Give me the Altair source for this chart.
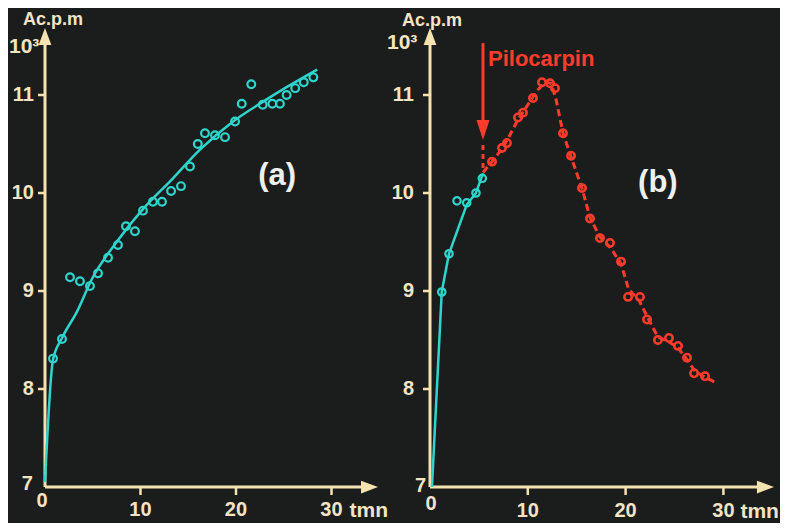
import altair as alt
import pandas as pd

# ---------------- data ----------------
# Panel (a): counts (x10^3 c.p.m) vs time (min)
a_pts_x = [0.84, 1.78, 2.62, 3.66, 4.71, 5.55, 6.6, 7.64, 8.48, 9.42, 10.26, 11.3, 12.25, 13.2,
           14.24, 15.18, 16.0, 16.75, 17.8, 18.85, 19.9, 20.6, 21.6, 22.8, 23.8, 24.6, 25.3,
           26.2, 27.1, 28.1]
a_pts_y = [8.31, 8.51, 9.14, 9.10, 9.05, 9.18, 9.34, 9.47, 9.66, 9.61, 9.82, 9.91, 9.91, 10.02,
           10.07, 10.27, 10.50, 10.61, 10.59, 10.57, 10.73, 10.91, 11.11, 10.90, 10.91, 10.91,
           11.00, 11.07, 11.13, 11.18]
a_fit_x = [0.0, 0.84, 1.78, 3.35, 4.9, 7.5, 10.3, 13.4, 16.2, 19.7, 22.8, 25.3, 28.5]
a_fit_y = [7.05, 8.30, 8.52, 8.79, 9.12, 9.50, 9.84, 10.15, 10.44, 10.73, 10.93, 11.08, 11.26]

# Panel (b): before pilocarpin (cyan) and after (red)
b_pre_x = [1.2, 1.94, 2.76, 3.75, 4.7, 5.35]
b_pre_y = [8.99, 9.38, 9.92, 9.90, 10.0, 10.15]
b_pre_line_x = [0.2, 1.2, 1.94, 3.75, 4.7, 5.42]
b_pre_line_y = [7.0, 8.99, 9.38, 9.88, 10.0, 10.2]

b_post_x = [6.34, 7.36, 7.87, 9.0, 9.51, 10.53, 11.45, 12.27, 12.78, 13.6, 14.42, 15.54, 16.36,
            17.38, 18.4, 19.53, 20.25, 21.47, 22.19, 23.31, 24.44, 25.36, 26.28, 27.0, 28.12]
b_post_y = [10.32, 10.46, 10.51, 10.77, 10.82, 10.97, 11.13, 11.12, 11.07, 10.61, 10.38, 10.05,
            9.74, 9.54, 9.49, 9.30, 8.94, 8.94, 8.71, 8.50, 8.52, 8.44, 8.32, 8.16, 8.13]
b_post_line_x = [5.42, 6.34, 7.36, 8.0, 9.0, 10.0, 11.0, 11.8, 12.4, 12.9, 13.6, 14.42, 15.54,
                 16.36, 17.38, 18.4, 19.53, 20.3, 21.4, 22.3, 23.31, 24.44, 25.36, 26.28, 27.1,
                 28.12, 29.14]
b_post_line_y = [10.21, 10.32, 10.45, 10.56, 10.75, 10.90, 11.05, 11.13, 11.12, 10.95, 10.61,
                 10.37, 10.05, 9.75, 9.55, 9.45, 9.28, 9.02, 8.90, 8.72, 8.53, 8.48, 8.42, 8.30,
                 8.18, 8.12, 8.07]

pilo_x = 5.42
pilo_label = "Pilocarpin"

y_ticks = [8, 9, 10, 11]
x_ticks = [10, 20, 30]
y_origin = 7
x_origin = 0
y_unit = "Ac.p.m"
y_mult = "10³"
x_unit = "tmn"
panel_names = ["(a)", "(b)"]

# ---------------- style ----------------
BG = "#1a1d1c"
AXIS = "#f6e2b0"
LABEL = "#f4e4c4"
CYAN = "#2fd5cd"
RED = "#ff3b2b"
WHITE = "#eef0ee"
FONT = "Liberation Sans"

W, H = 772, 515
ys = alt.Scale(domain=[6.6327, 11.8878], nice=False, zero=False)
xs_a = alt.Scale(domain=[-3.874, 76.963], nice=False, zero=False)
xs_b = alt.Scale(domain=[-43.149, 35.787], nice=False, zero=False)

ARROW_UP = "M0,-1L0.75,1L-0.75,1Z"
ARROW_RIGHT = "M1,0L-1,-0.75L-1,0.75Z"
ARROW_DOWN = "M0,1L-0.65,-1L0.65,-1Z"


def enc(xs, **extra):
    d = dict(x=alt.X("x:Q", scale=xs, axis=None), y=alt.Y("y:Q", scale=ys, axis=None))
    d.update(extra)
    return d


def frame(xs, y_top, x_end, lab):
    """axes with arrows, ticks and labels for one panel; lab holds pixel offsets."""
    L = []
    L.append(alt.Chart(pd.DataFrame({"x": [x_origin], "y": [y_origin], "y2": [y_top]}))
             .mark_rule(color=AXIS, strokeWidth=3)
             .encode(**enc(xs, y2=alt.Y2("y2:Q"))))
    L.append(alt.Chart(pd.DataFrame({"x": [x_origin], "x2": [x_end], "y": [y_origin]}))
             .mark_rule(color=AXIS, strokeWidth=3)
             .encode(**enc(xs, x2=alt.X2("x2:Q"))))
    L.append(alt.Chart(pd.DataFrame({"x": [x_origin], "y": [y_top]}))
             .mark_point(shape=ARROW_UP, size=289, filled=True, color=AXIS, opacity=1)
             .encode(**enc(xs)))
    L.append(alt.Chart(pd.DataFrame({"x": [x_end], "y": [y_origin]}))
             .mark_point(shape=ARROW_RIGHT, size=289, filled=True, color=AXIS, opacity=1)
             .encode(**enc(xs)))
    L.append(alt.Chart(pd.DataFrame({"x": [x_origin] * len(y_ticks), "y": y_ticks}))
             .mark_tick(orient="horizontal", size=7, thickness=2.5, xOffset=-3.5, color=AXIS, opacity=1)
             .encode(**enc(xs)))
    L.append(alt.Chart(pd.DataFrame({"x": x_ticks, "y": [y_origin] * len(x_ticks)}))
             .mark_tick(orient="vertical", size=8, thickness=2.5, yOffset=4, color=AXIS, opacity=1)
             .encode(**enc(xs)))
    tl = dict(color=LABEL, font=FONT, fontSize=20, fontWeight="bold")
    L.append(alt.Chart(pd.DataFrame({"x": [x_origin] * len(y_ticks), "y": y_ticks,
                                     "t": [str(v) for v in y_ticks]}))
             .mark_text(align="right", baseline="middle", dx=lab["ydx"], **tl)
             .encode(**enc(xs, text="t:N")))
    L.append(alt.Chart(pd.DataFrame({"x": x_ticks, "y": [y_origin] * len(x_ticks),
                                     "t": [str(v) for v in x_ticks]}))
             .mark_text(align="center", baseline="middle", dy=lab["xdy"], **tl)
             .encode(**enc(xs, text="t:N")))
    L.append(alt.Chart(pd.DataFrame({"x": [x_origin], "y": [y_origin], "t": [str(y_origin)]}))
             .mark_text(align="right", baseline="middle", dx=lab["y0dx"], dy=lab["y0dy"], **tl)
             .encode(**enc(xs, text="t:N")))
    L.append(alt.Chart(pd.DataFrame({"x": [x_origin], "y": [y_origin], "t": [str(x_origin)]}))
             .mark_text(align="center", baseline="middle", dx=lab["x0dx"], dy=lab["x0dy"], **tl)
             .encode(**enc(xs, text="t:N")))
    L.append(alt.Chart(pd.DataFrame({"x": [x_ticks[-1]], "y": [y_origin], "t": [x_unit]}))
             .mark_text(align="left", baseline="middle", dx=lab["udx"], dy=lab["udy"],
                        color=LABEL, font=FONT, fontSize=21, fontWeight="bold")
             .encode(**enc(xs, text="t:N")))
    L.append(alt.Chart(pd.DataFrame({"x": [x_origin], "y": [y_top], "t": [y_unit]}))
             .mark_text(align="left", baseline="alphabetic", dx=lab["adx"], dy=lab["ady"],
                        color=LABEL, font=FONT, fontSize=18, fontWeight="bold")
             .encode(**enc(xs, text="t:N")))
    L.append(alt.Chart(pd.DataFrame({"x": [x_origin], "y": [y_top], "t": [y_mult]}))
             .mark_text(align="left", baseline="alphabetic", dx=lab["mdx"], dy=lab["mdy"],
                        color=LABEL, font=FONT, fontSize=21, fontWeight="bold")
             .encode(**enc(xs, text="t:N")))
    return L


layers = []

# ----- panel (a) -----
layers += frame(xs_a, 11.597, 33.98,
                dict(ydx=-11, xdy=23, y0dx=-12, y0dy=-3, x0dx=-3, x0dy=14,
                     udx=18, udy=24, adx=-22, ady=-11.5, mdx=-36, mdy=16.5))
layers.append(alt.Chart(pd.DataFrame({"x": a_fit_x, "y": a_fit_y}))
              .mark_line(color=CYAN, strokeWidth=2.5, interpolate="monotone")
              .encode(**enc(xs_a)))
layers.append(alt.Chart(pd.DataFrame({"x": a_pts_x, "y": a_pts_y}))
              .mark_point(shape="circle", filled=False, size=60, strokeWidth=2.2, color=CYAN, opacity=1)
              .encode(**enc(xs_a)))
layers.append(alt.Chart(pd.DataFrame({"x": [24.3], "y": [10.17], "t": [panel_names[0]]}))
              .mark_text(align="center", baseline="middle", color=WHITE, font=FONT, fontSize=31,
                         fontWeight="bold")
              .encode(**enc(xs_a, text="t:N")))

# ----- panel (b) -----
layers += frame(xs_b, 11.597, 34.3,
                dict(ydx=-16, xdy=24, y0dx=-4, y0dy=-1, x0dx=1, x0dy=17,
                     udx=17, udy=25, adx=-28, ady=-10.5, mdx=-43, mdy=12.5))
layers.append(alt.Chart(pd.DataFrame({"x": b_pre_line_x, "y": b_pre_line_y}))
              .mark_line(color=CYAN, strokeWidth=2.5)
              .encode(**enc(xs_b)))
layers.append(alt.Chart(pd.DataFrame({"x": b_pre_x, "y": b_pre_y}))
              .mark_point(shape="circle", filled=False, size=55, strokeWidth=2.2, color=CYAN, opacity=1)
              .encode(**enc(xs_b)))
layers.append(alt.Chart(pd.DataFrame({"x": b_post_line_x, "y": b_post_line_y}))
              .mark_line(color=RED, strokeWidth=3, strokeDash=[7, 4])
              .encode(**enc(xs_b)))
layers.append(alt.Chart(pd.DataFrame({"x": b_post_x, "y": b_post_y}))
              .mark_point(shape="circle", filled=False, size=55, strokeWidth=2.5, color=RED, opacity=1)
              .encode(**enc(xs_b)))
# pilocarpin arrow
layers.append(alt.Chart(pd.DataFrame({"x": [pilo_x], "y": [11.53], "y2": [10.66]}))
              .mark_rule(color=RED, strokeWidth=3)
              .encode(**enc(xs_b, y2=alt.Y2("y2:Q"))))
layers.append(alt.Chart(pd.DataFrame({"x": [pilo_x], "y": [10.643]}))
              .mark_point(shape=ARROW_DOWN, size=400, filled=True, color=RED, opacity=1)
              .encode(**enc(xs_b)))
layers.append(alt.Chart(pd.DataFrame({"x": [pilo_x], "y": [10.49], "y2": [10.23]}))
              .mark_rule(color=RED, strokeWidth=3, strokeDash=[5, 4])
              .encode(**enc(xs_b, y2=alt.Y2("y2:Q"))))
layers.append(alt.Chart(pd.DataFrame({"x": [pilo_x], "y": [11.53], "t": [pilo_label]}))
              .mark_text(align="left", baseline="alphabetic", dx=5, dy=23, color=RED,
                         font=FONT, fontSize=22, fontWeight="bold")
              .encode(**enc(xs_b, text="t:N")))
layers.append(alt.Chart(pd.DataFrame({"x": [23.3], "y": [10.10], "t": [panel_names[1]]}))
              .mark_text(align="center", baseline="middle", color=WHITE, font=FONT, fontSize=31,
                         fontWeight="bold")
              .encode(**enc(xs_b, text="t:N")))

chart = (alt.layer(*layers)
         .resolve_scale(x="independent", y="independent")
         .properties(width=W, height=H, background=BG, padding=0,
                     autosize=alt.AutoSizeParams(type="none"))
         .configure_view(stroke=None))

chart.save("out.html", embed_options={"renderer": "svg", "actions": False})
